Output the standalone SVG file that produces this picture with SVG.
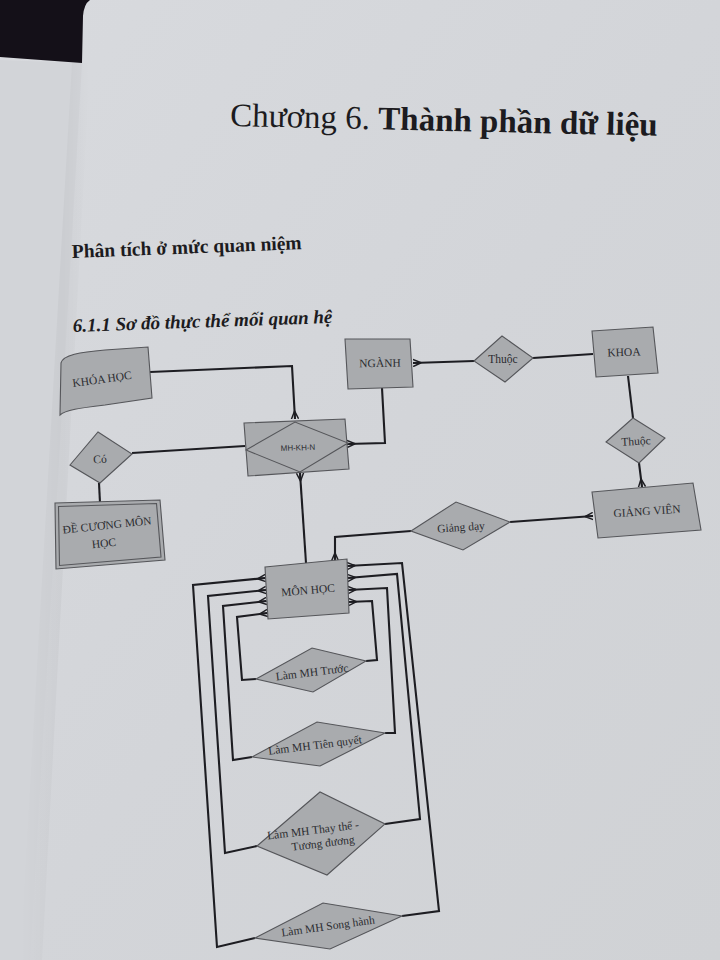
<svg xmlns="http://www.w3.org/2000/svg" width="720" height="960" viewBox="0 0 720 960">
<defs>
<linearGradient id="pg" x1="0" y1="0" x2="1" y2="1">
<stop offset="0" stop-color="#d8dade"/>
<stop offset="0.5" stop-color="#d3d5d9"/>
<stop offset="1" stop-color="#d0d2d5"/>
</linearGradient>
<linearGradient id="sh" x1="0" y1="0" x2="1" y2="0">
<stop offset="0" stop-color="#000" stop-opacity="0"/>
<stop offset="0.6" stop-color="#000" stop-opacity="0.035"/>
<stop offset="1" stop-color="#000" stop-opacity="0"/>
</linearGradient>
<marker id="cf" viewBox="0 0 10 10" refX="10" refY="5" markerWidth="9" markerHeight="9" markerUnits="userSpaceOnUse" orient="auto">
<path d="M1,5 L10,1 M1,5 L10,5 M1,5 L10,9" fill="none" stroke="#1d1d22" stroke-width="1.6"/>
</marker>
<style>
.shape{fill:#a9abae;stroke:#55565a;stroke-width:1.1}
.line{fill:none;stroke:#1d1d22;stroke-width:2.1;stroke-linejoin:miter}
.lbl{font-family:"Liberation Serif","Times New Roman",serif;font-size:11.5px;fill:#2b2b30;text-anchor:middle;dominant-baseline:central}
.sans{font-family:"Liberation Sans",Arial,sans-serif;font-size:8px;fill:#2b2b30;text-anchor:middle;dominant-baseline:central}
.head{font-family:"Liberation Serif","Times New Roman",serif;fill:#1c1b20}
</style>
</defs>

<!-- page background -->
<rect x="0" y="0" width="720" height="960" fill="url(#pg)"/>
<path d="M0,60 L82,63 L30,960 L0,960 Z" fill="#d2d4d8"/>
<path d="M72,63 L90,63 L42,960 L20,960 Z" fill="url(#sh)"/>
<path d="M0,0 L90,0 Q84,4 83,16 L82,63 L0,57 Z" fill="#141018"/>

<!-- headings -->
<g id="title">
<text class="head" x="230" y="126" font-size="33" transform="rotate(1.3 230 126)">Chương 6. <tspan font-weight="bold">Thành phần dữ liệu</tspan></text>
</g>
<g id="section">
<text class="head" x="72" y="258" font-size="19.5" font-weight="bold" transform="rotate(-2.2 72 258)">Phân tích ở mức quan niệm</text>
</g>
<g id="subsection">
<text class="head" x="73" y="332" font-size="19" font-weight="bold" font-style="italic" transform="rotate(-2 73 332)">6.1.1 Sơ đồ thực thể mối quan hệ</text>
</g>

<!-- connectors -->
<g id="connectors">
<path class="line" d="M150,372 L292,366 L295,419" marker-end="url(#cf)"/>
<path class="line" d="M132,453 L245,446"/>
<path class="line" d="M99,483 L100,503"/>
<path class="line" d="M382,388 L385,443 L347,444" marker-end="url(#cf)"/>
<path class="line" d="M306,563 L300,473" marker-end="url(#cf)"/>
<path class="line" d="M474,361 L413,363" marker-end="url(#cf)"/>
<path class="line" d="M533,358 L593,354"/>
<path class="line" d="M628,376 L633,418"/>
<path class="line" d="M639,463 L642,487" marker-end="url(#cf)"/>
<path class="line" d="M510,522 L593,516" marker-end="url(#cf)"/>
<path class="line" d="M411,531 L335,537 L335,561" marker-end="url(#cf)"/>
<!-- left loops -->
<path class="line" d="M255,938 L217,947 L193,585 L265.5,578" marker-end="url(#cf)"/>
<path class="line" d="M257,846 L225,853 L208,596 L266,590" marker-end="url(#cf)"/>
<path class="line" d="M252,757 L233,760 L223,606 L266.5,601" marker-end="url(#cf)"/>
<path class="line" d="M256,679 L242,680 L237,617 L267.5,613" marker-end="url(#cf)"/>
<!-- right loops -->
<path class="line" d="M402,916 L439,911 L402,563 L347,566" marker-end="url(#cf)"/>
<path class="line" d="M385,824 L420,819 L397,574 L347.5,578" marker-end="url(#cf)"/>
<path class="line" d="M385,733 L395,733 L387,588 L348,590" marker-end="url(#cf)"/>
<path class="line" d="M366,661 L377,660 L372,601 L348.5,602" marker-end="url(#cf)"/>
</g>

<!-- nodes -->
<g id="khoahoc">
<path class="shape" d="M61,363 C63,355 80,352 105,350 L148,347 L152,398 L105,405 C80,408 65,410 60,415 Z"/>
<text class="lbl" x="102" y="379" font-size="10.5" transform="rotate(-8 102 379)">KHÓA HỌC</text>
</g>
<g id="co">
<polygon class="shape" points="98,432 132,454 100,483 70,465"/>
<text class="lbl" x="100" y="459" transform="rotate(-4 100 459)">Có</text>
</g>
<g id="decuong">
<polygon class="shape" points="55,503 160,500 165,560 56,569"/>
<polygon class="shape" points="58.5,506.5 156.5,503.5 161,557 59.5,565.5" stroke-width="1.6" stroke="#3a3a3e"/>
<text class="lbl" x="107" y="525" transform="rotate(-6 107 525)">ĐỀ CƯƠNG MÔN</text>
<text class="lbl" x="104" y="543" transform="rotate(-6 104 543)">HỌC</text>
</g>
<g id="mhkhn">
<polygon class="shape" points="244,423 345,419 349,469 248,476"/>
<polygon class="shape" points="246,450 295,422 348,443 300,472" fill="#aeb0b3"/>
<text class="sans" x="298" y="448" transform="rotate(-2 298 448)">MH-KH-N</text>
</g>
<g id="nganh">
<polygon class="shape" points="345,339 410,339 413,387 348,389"/>
<text class="lbl" x="380" y="363" transform="rotate(-1 380 363)">NGÀNH</text>
</g>
<g id="thuoc1">
<polygon class="shape" points="474,361 502,336 533,358 505,382"/>
<text class="lbl" x="503" y="359" font-size="7.5">Thuộc</text>
</g>
<g id="khoa">
<polygon class="shape" points="592,331 653,327 658,373 596,377"/>
<text class="lbl" x="624" y="352" transform="rotate(-2 624 352)">KHOA</text>
</g>
<g id="thuoc2">
<polygon class="shape" points="606,442 633,418 665,438 639,463"/>
<text class="lbl" x="636" y="441" font-size="10" transform="rotate(-3 636 441)">Thuộc</text>
</g>
<g id="giangvien">
<polygon class="shape" points="592,492 693,483 701,530 598,538"/>
<text class="lbl" x="647" y="511" transform="rotate(-4 647 511)">GIẢNG VIÊN</text>
</g>
<g id="giangday">
<polygon class="shape" points="411,531 456,502 510,522 463,550"/>
<text class="lbl" x="461" y="527" font-size="11" transform="rotate(-4 461 527)">Giảng dạy</text>
</g>
<g id="monhoc">
<polygon class="shape" points="265,567 347,559 349,613 268,619"/>
<text class="lbl" x="308" y="590" transform="rotate(-5 308 590)">MÔN HỌC</text>
</g>
<g id="truoc">
<polygon class="shape" points="256,679 312,648 366,661 313,692"/>
<text class="lbl" x="312" y="672" transform="rotate(-7 312 672)">Làm MH Trước</text>
</g>
<g id="tienquyet">
<polygon class="shape" points="252,757 317,722 385,733 320,766"/>
<text class="lbl" x="315" y="745" transform="rotate(-7 315 745)">Làm MH Tiên quyết</text>
</g>
<g id="thaythe">
<polygon class="shape" points="257,846 320,792 385,824 327,875"/>
<text class="lbl" x="313" y="830" transform="rotate(-7 313 830)">Làm MH Thay thế -</text>
<text class="lbl" x="323" y="843" transform="rotate(-7 323 843)">Tương đương</text>
</g>
<g id="songhanh">
<polygon class="shape" points="255,938 323,903 402,916 330,949"/>
<text class="lbl" x="328" y="926" transform="rotate(-8 328 926)">Làm MH Song hành</text>
</g>
</svg>
